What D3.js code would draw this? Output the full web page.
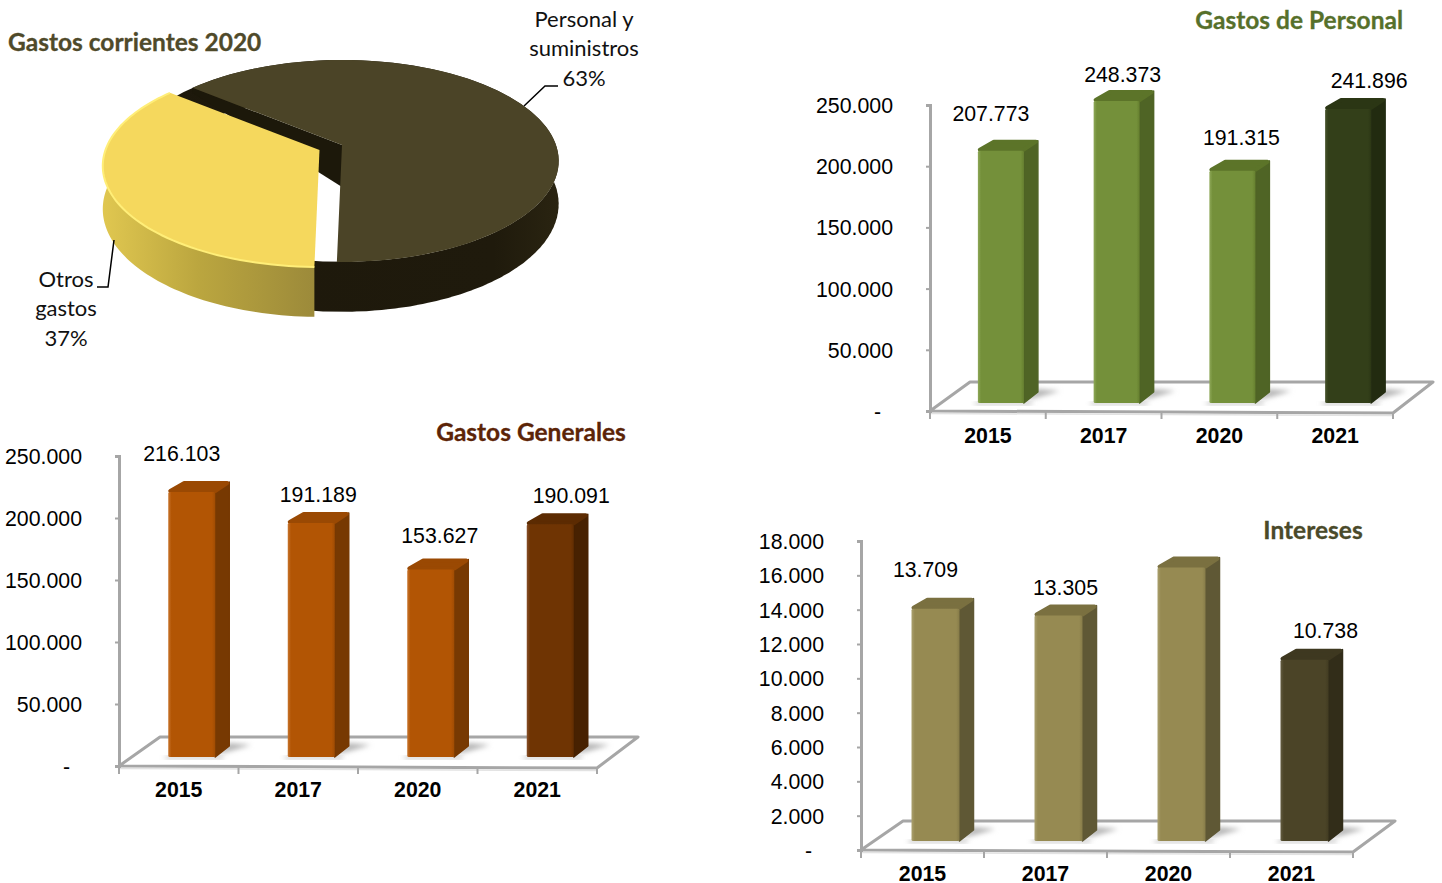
<!DOCTYPE html>
<html lang="es">
<head>
<meta charset="utf-8">
<title>Gastos corrientes</title>
<script src="https://cdn.jsdelivr.net/npm/d3@7"></script>
<style>
body{margin:0;background:#fff;}
svg{display:block;}
.num{font-family:"Liberation Sans",Arial,sans-serif;font-size:21.3px;fill:#000;}
.cat{font-family:"Liberation Sans",Arial,sans-serif;font-size:21.3px;font-weight:bold;fill:#000;}
.ttl{font-family:Lato,"Open Sans",sans-serif;font-size:24.5px;font-weight:bold;stroke-width:0.3px;}
.lbl{font-family:Lato,"Open Sans",sans-serif;font-size:22px;fill:#111;}
</style>
</head>
<body>
<div id="chart"></div>
<script>
var years = ["2015","2017","2020","2021"];

// pie
var pieNames = ["Otros gastos","Personal y suministros"];
var pieValues = [37,63];

// bars. 2020 in Intereses has no printed label, it is estimated
var personal = [207773,248373,191315,241896];
var generales = [216103,191189,153627,190091];
var intereses = [13709,13305,16100,10738];
var interesesLabels = ["13.709","13.305",null,"10.738"];

var ticksPersonal = [0,50000,100000,150000,200000,250000];
var ticksGenerales = [0,50000,100000,150000,200000,250000];
var ticksIntereses = [0,2000,4000,6000,8000,10000,12000,14000,16000,18000];

var es = d3.formatLocale({decimal:",",thousands:".",grouping:[3],currency:["","€"]});
var fmt = es.format(",d");
function tickFmt(d){ return d==0 ? "-\u00a0\u00a0" : fmt(d); }

var svg = d3.select("#chart").append("svg").attr("width",1442).attr("height",883);
var defs = svg.append("defs");
defs.append("filter").attr("id","blur").attr("x","-30%").attr("y","-30%").attr("width","160%").attr("height","160%")
  .append("feGaussianBlur").attr("stdDeviation",2.5);

var line = d3.line();
function poly(pts){ return line(pts)+"Z"; }

var gradN = 0;
function hGrad(stops){
  var id = "g"+(gradN++);
  var g = defs.append("linearGradient").attr("id",id);
  stops.forEach(function(s){ g.append("stop").attr("offset",s[0]).attr("stop-color",s[1]); });
  return "url(#"+id+")";
}

//--- 3d bars
function bars(o){
  var g = svg.append("g");
  var left = o.left, right = o.right, d0 = o.floorDx, d1 = o.floorDy;
  var y = d3.scaleLinear().domain([0,o.ticks[o.ticks.length-1]]).range([o.bottom,o.top]);
  var x = d3.scaleBand().domain(years).range([left,right]);

  // floor
  g.append("path")
    .attr("d",poly([[left,o.bottom],[right,o.bottom+2],[right+d0,o.bottom+d1],[left+d0,o.bottom+d1]]))
    .attr("fill","#fff").attr("stroke","#a6a6a6").attr("stroke-width",3).attr("stroke-linejoin","round");
  g.append("path")
    .attr("d",line([[left,o.bottom+2.5],[right,o.bottom+4.5]]))
    .attr("fill","none").attr("stroke","#e2e2e2").attr("stroke-width",1.5);

  // axes
  var ay = g.append("g").attr("transform","translate("+left+",0)")
    .call(d3.axisLeft(y).tickValues(o.ticks).tickFormat(tickFmt).tickSize(4).tickPadding(33));
  ay.select(".domain").attr("stroke","#a6a6a6").attr("stroke-width",3);
  ay.selectAll(".tick line").attr("stroke","#a6a6a6").attr("stroke-width",2);
  ay.selectAll("text").attr("class","num").attr("font-family",null).attr("font-size",null).attr("dy","0.35em");

  var ax = g.append("g").attr("transform","translate(0,"+(o.bottom+2)+")")
    .call(d3.axisBottom(x).tickSize(0).tickPadding(o.catPad));
  ax.select(".domain").remove();
  ax.selectAll("text").attr("class","cat").attr("font-family",null).attr("font-size",null);
  x.domain().concat(["end"]).forEach(function(c){
    var px = c=="end" ? right : x(c);
    g.append("line").attr("x1",px).attr("x2",px).attr("y1",o.bottom+1).attr("y2",o.bottom+8)
      .attr("stroke","#a6a6a6").attr("stroke-width",2);
  });

  // bars
  var w = o.barW, dx = 14, dy = -11, lift = 6, base = o.bottom-o.baseLift;
  var bar = g.selectAll(".bar").data(o.values).enter().append("g").attr("class","bar");

  function bx(d,i){ return x(years[i]) + x.bandwidth()/2 + 13 - w/2; }
  function col(i){ return i==3 ? o.last : o.main; }

  bar.append("path").attr("filter","url(#blur)").attr("fill","#b5b5b5")
    .attr("d",function(d,i){
      var l = bx(d,i);
      return poly([[l+w-6,base],[l+w+dx+22,base-12],[l+w+dx,base-14],[l+w,base-2]]);
    });
  bar.append("path").attr("fill","#c4c4c4").attr("filter","url(#blur)")
    .attr("d",function(d,i){
      var l = bx(d,i);
      return poly([[l-3,base-1],[l+w+8,base-1],[l+w+8,base+2],[l-3,base+2]]);
    });
  // side
  bar.append("path").attr("fill",function(d,i){return col(i).side;})
    .attr("stroke",function(d,i){return col(i).side;}).attr("stroke-width",1.5).attr("stroke-linejoin","round")
    .attr("d",function(d,i){
      var l = bx(d,i)+w, t = y(d)-lift;
      return poly([[l,t],[l+dx,t+dy+1],[l+dx,base+dy],[l,base]]);
    });
  // top
  bar.append("path").attr("fill",function(d,i){return col(i).top;})
    .attr("stroke",function(d,i){return col(i).top;}).attr("stroke-width",4).attr("stroke-linejoin","round")
    .attr("d",function(d,i){
      var l = bx(d,i), t = y(d)-lift;
      return poly([[l+2,t-1],[l+w,t-1],[l+w+dx-2,t+dy+2],[l+dx+2,t+dy+2]]);
    });
  // front
  bar.append("rect")
    .attr("x",bx).attr("width",w)
    .attr("y",function(d){return y(d)-lift;})
    .attr("height",function(d){return base-y(d)+lift;})
    .attr("rx",1.5)
    .attr("fill",function(d,i){
      var c = col(i);
      return hGrad([[0,c.edge],[0.07,c.front],[0.93,c.front],[1,c.shade]]);
    });

  // value labels are hand placed in the original, so every one has its own nudge
  bar.append("text").attr("class","num").attr("text-anchor","middle").attr("dy","0.35em")
    .attr("x",function(d,i){return bx(d,i)+w/2+o.nudge[i][0];})
    .attr("y",function(d,i){return y(d)-9+o.nudge[i][1];})
    .text(function(d,i){ return o.labels ? o.labels[i] : fmt(d); });
}

bars({values:personal,ticks:ticksPersonal,left:930,right:1393,top:105,bottom:411,floorDx:40,floorDy:-29,barW:46,catPad:15,baseLift:8,
  main:{front:"#74903a",side:"#4f6425",top:"#5c7429",edge:"#8ea858",shade:"#66802f"},
  last:{front:"#333f19",side:"#222b10",top:"#2b3614",edge:"#46522c",shade:"#2c3715"},
  nudge:[[-10,-34],[6,-23],[9,-30],[21,-25]]});

bars({values:generales,ticks:ticksGenerales,left:119,right:597,top:456,bottom:766,floorDx:41,floorDy:-29,barW:47,catPad:14,baseLift:9,
  main:{front:"#b25504",side:"#773902",top:"#9a4903",edge:"#c8742c",shade:"#a04c03"},
  last:{front:"#6f3403",side:"#472101",top:"#5c2b02",edge:"#87502a",shade:"#622e02"},
  nudge:[[-10,-35],[7,-25],[9,-31],[21,-26]]});

bars({values:intereses,labels:interesesLabels,ticks:ticksIntereses,left:861,right:1353,top:541,bottom:850,floorDx:42,floorDy:-29,barW:48,catPad:14,baseLift:9,
  main:{front:"#968a52",side:"#5f5835",top:"#7a7040",edge:"#aaa06e",shade:"#877c49"},
  last:{front:"#4b4427",side:"#322d19",top:"#3e3820",edge:"#635c40",shade:"#423c22"},
  nudge:[[-10,-36],[7,-25],[0,0],[21,-26]]});

//--- pie, drawn as a tilted disc with a small perspective
var R = 214, tiltA = 98.5, persp = 0.158, drop = 42, warp = 4.5*Math.PI/180;
function proj(c,a,r,down){
  // the slight warp of the angle stands in for the 3d view of the original
  var b = a + warp*Math.sin(2*a);
  var z = r*Math.cos(b), k = 1/(1+persp*z);
  return [c[0]+R*r*Math.sin(b)*k, c[1]-tiltA*z*k+(down?drop*k:0)];
}
function rim(c,a0,a1,down){
  var n = 80;
  return d3.range(n+1).map(function(i){ return proj(c,a0+(a1-a0)*i/n,1,down); });
}

var arcs = d3.pie().sort(null).startAngle(181*Math.PI/180).endAngle(541*Math.PI/180)(pieValues);
var otros = arcs[0], pers = arcs[1];
var cDark = [342,145], cYel = [319.5,150];
var pg = svg.append("g");

// dark slice
pg.append("path").attr("fill",hGrad([[0,"#1d180b"],[0.85,"#1f1a0c"],[1,"#2a2411"]]))
  .attr("d",poly(rim(cDark,80*Math.PI/180,pers.endAngle,false).concat(rim(cDark,80*Math.PI/180,pers.endAngle,true).reverse())));
// cut face, only a thin wedge of it shows at the far end
var far = proj(cDark,pers.startAngle,1,false);
pg.append("path").attr("fill","#1c180a")
  .attr("d",poly([cDark,far,[far[0],far[1]+5],[cDark[0],cDark[1]+drop]]));
pg.append("path").attr("fill","#4b4427")
  .attr("d",poly([cDark].concat(rim(cDark,pers.startAngle,pers.endAngle,false))));

// yellow slice
pg.append("path").attr("fill",hGrad([[0,"#e0c750"],[0.45,"#bba63f"],[1,"#9c8a3a"]]))
  .attr("d",poly(rim(cYel,otros.startAngle,285*Math.PI/180,false).concat(rim(cYel,otros.startAngle,285*Math.PI/180,true).reverse())));
pg.append("path").attr("fill","#f5d85d")
  .attr("d",poly([cYel].concat(rim(cYel,otros.startAngle,otros.endAngle,false))));
pg.append("path").attr("fill","none").attr("stroke","#ffee78").attr("stroke-width",2)
  .attr("d",line(rim(cYel,otros.startAngle,otros.endAngle,false)));

// leaders
pg.append("path").attr("fill","none").attr("stroke","#000").attr("stroke-width",1.5)
  .attr("d",line([[524,106],[545,86],[558,86]]));
pg.append("path").attr("fill","none").attr("stroke","#000").attr("stroke-width",1.5)
  .attr("d",line([[114,240],[108,287],[97,287]]));

function multi(x,y,lines){
  var t = svg.append("text").attr("class","lbl").attr("text-anchor","middle");
  lines.forEach(function(s,i){
    t.append("tspan").attr("x",x).attr("y",y+i*29.3).text(s);
  });
}
multi(584,27,["Personal y","suministros",pieValues[1]+"%"]);
multi(66,287,["Otros","gastos",pieValues[0]+"%"]);

//--- titles
function title(x,y,anchor,color,s){
  svg.append("text").attr("class","ttl").attr("x",x).attr("y",y).attr("text-anchor",anchor)
    .attr("dy","0.35em").attr("fill",color).attr("stroke",color).text(s);
}
title(8,42,"start","#4f4a2a","Gastos corrientes 2020");
title(1403,20,"end","#56702b","Gastos de Personal");
title(531,432,"middle","#5c2407","Gastos Generales");
title(1313,530,"middle","#4a4a2a","Intereses");
</script>
</body>
</html>
